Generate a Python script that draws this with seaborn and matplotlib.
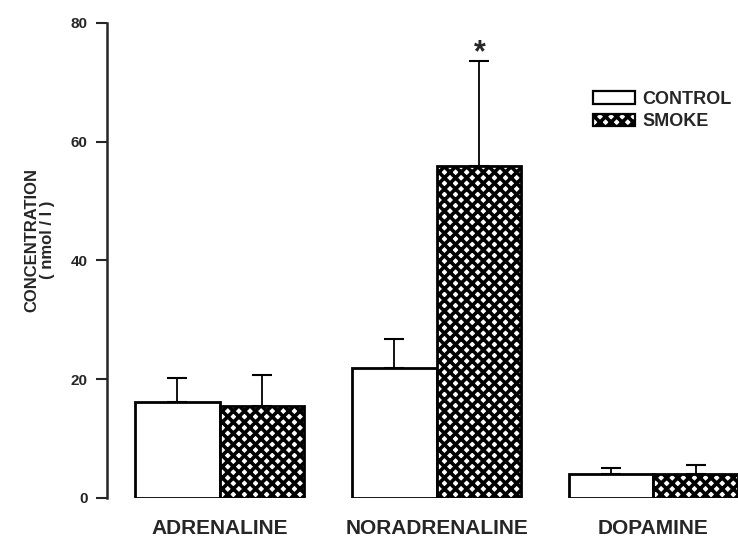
import numpy as np
import pandas as pd
import matplotlib
matplotlib.use("Agg")
import matplotlib.pyplot as plt
import seaborn as sns
from matplotlib.patches import Patch

catecholamines = ["ADRENALINE", "NORADRENALINE", "DOPAMINE"]
groups = ["CONTROL", "SMOKE"]
control_mean = [16.2, 21.9, 4.0]
control_sem = [4.0, 4.9, 1.0]
smoke_mean = [15.5, 55.9, 4.0]
smoke_sem = [5.2, 17.7, 1.6]

df = pd.DataFrame({
    "amine": catecholamines * 2,
    "group": ["CONTROL"] * 3 + ["SMOKE"] * 3,
    "conc": control_mean + smoke_mean,
})
errs = {"CONTROL": control_sem, "SMOKE": smoke_sem}

sns.set_style("ticks")
plt.rcParams["font.family"] = ["Liberation Sans", "DejaVu Sans"]
plt.rcParams["font.weight"] = "bold"
plt.rcParams["hatch.linewidth"] = 2.6

fig = plt.figure(figsize=(7.38, 5.44), dpi=100)
ax = fig.add_axes([0.145, 0.0846, 0.855, 0.8734])

sns.barplot(data=df, x="amine", y="conc", hue="group", hue_order=groups,
            order=catecholamines, palette=["white", "white"], width=0.78,
            edgecolor="black", linewidth=2.0, errorbar=None, legend=False, ax=ax)

hatches = {"CONTROL": "", "SMOKE": "xxx"}
for cont, g in zip(ax.containers, groups):
    xs = []
    for bar in cont:
        bar.set_hatch(hatches[g])
        xs.append(bar.get_x() + bar.get_width() / 2)
    means = control_mean if g == "CONTROL" else smoke_mean
    e = errs[g]
    ax.errorbar(xs, means, yerr=[np.zeros(len(e)), e], fmt="none",
                ecolor="black", elinewidth=1.3, capsize=7, capthick=1.5,
                zorder=0)

ax.text(1.2, 74.9, "*", ha="center", va="center", fontsize=22, fontweight="bold")

ax.set_ylim(0, 80)
ax.set_xlim(-0.52, 2.39)
ax.set_yticks([0, 20, 40, 60, 80])
ax.set_yticklabels(["0", "20", "40", "60", "80"], fontsize=11, fontweight="bold")
ax.set_xticks(range(3))
ax.set_xticklabels(catecholamines, fontsize=15, fontweight="bold")
ax.tick_params(axis="y", length=8, width=1.5, direction="out", pad=6)
ax.tick_params(axis="x", length=0, pad=15)
ax.set_xlabel("")
ax.set_ylabel("CONCENTRATION\n( nmol / l )", fontsize=12, fontweight="bold",
              linespacing=1.1)
ax.yaxis.set_label_coords(-0.082, 0.543)
sns.despine(ax=ax, bottom=True)
ax.spines["left"].set_linewidth(1.8)

handles = [Patch(facecolor="white", edgecolor="black", linewidth=1.6, label="CONTROL"),
           Patch(facecolor="white", edgecolor="black", linewidth=1.6, hatch="xxx", label="SMOKE")]
fig.legend(handles=handles, loc="upper left", bbox_to_anchor=(593 / 738, 1 - 91 / 544),
           frameon=False, prop={"weight": "bold", "size": 13}, borderpad=0,
           borderaxespad=0, handlelength=2.3, handleheight=0.7, labelspacing=0.3,
           handletextpad=0.45)

fig.savefig("out.png", dpi=100)
